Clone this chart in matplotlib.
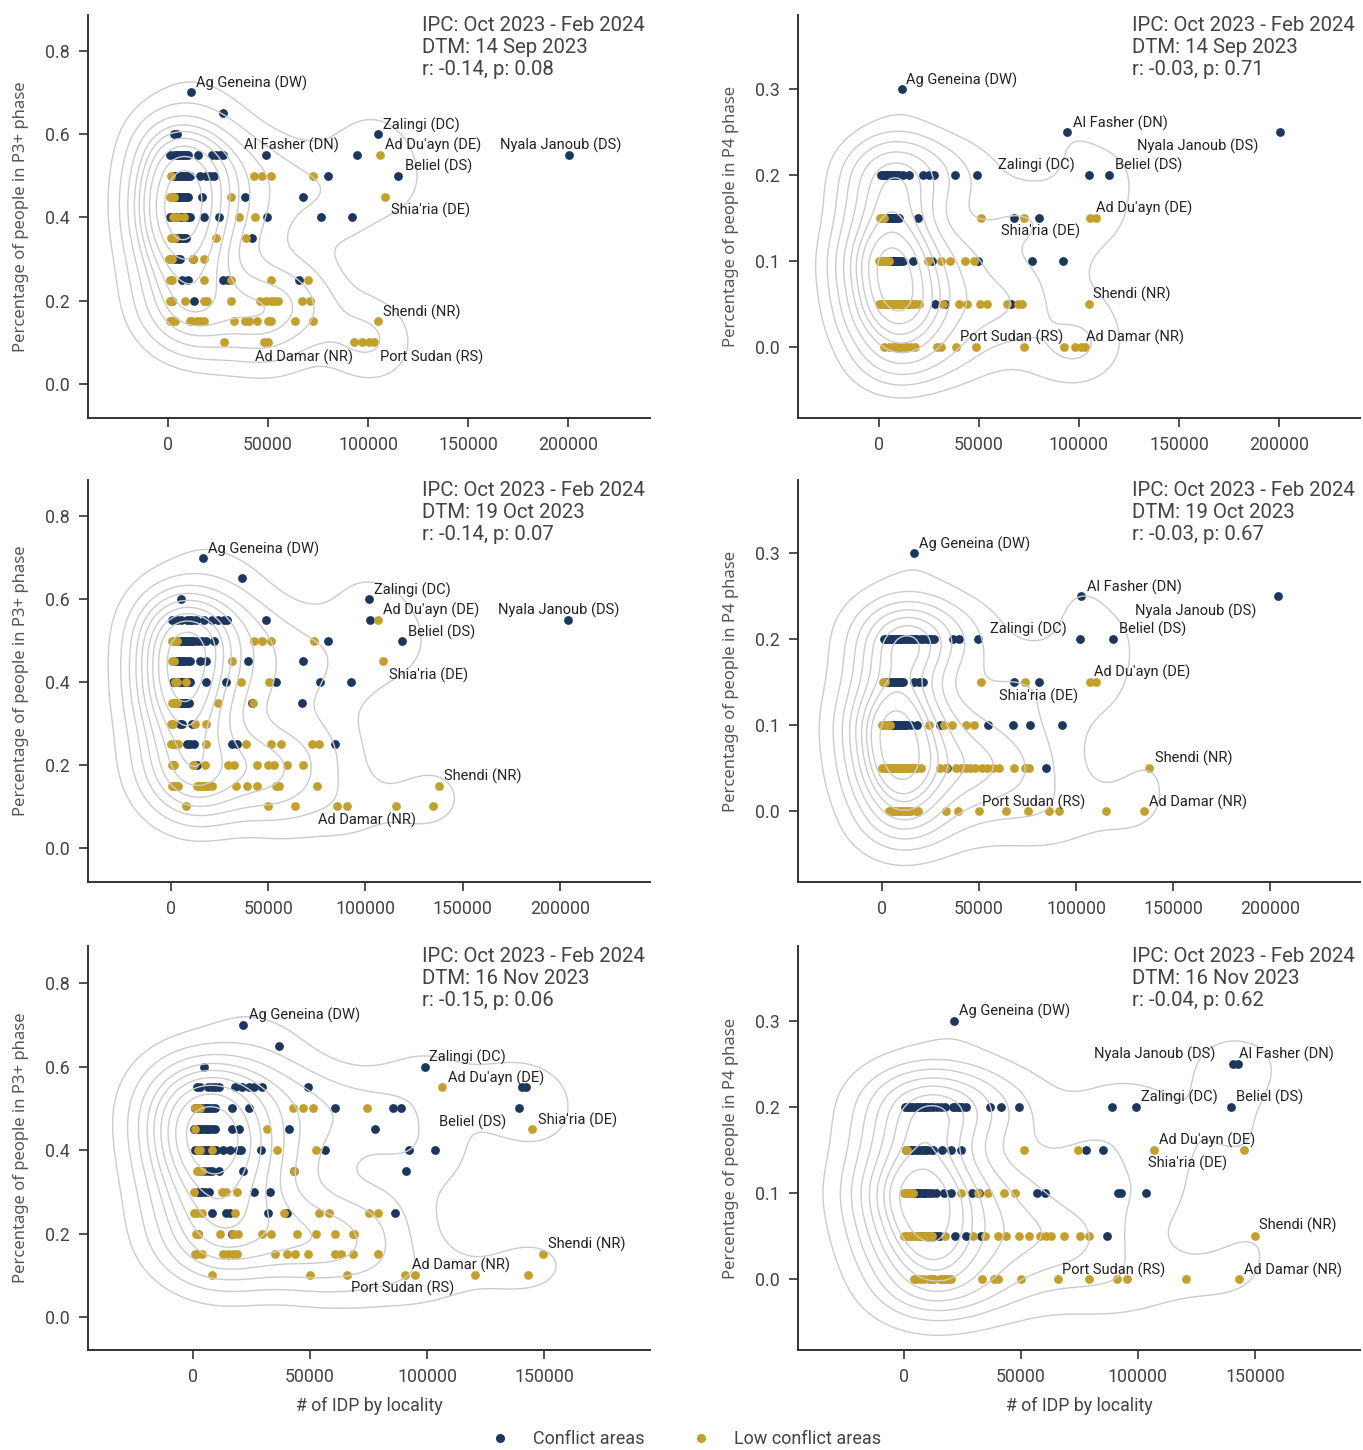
import matplotlib
matplotlib.use("Agg")
import matplotlib.pyplot as plt
import seaborn as sns
from matplotlib.lines import Line2D
from matplotlib.ticker import FuncFormatter, FormatStrFormatter

# ---------------------------------------------------------------------------
# Data: share of people in IPC phase vs. number of IDPs per locality.
# Each dict maps the phase share (y) to the IDP counts (x) of localities
# sitting at that share (localities with equal values overlap).
# ---------------------------------------------------------------------------
DTM_DATES = ["14 Sep 2023", "19 Oct 2023", "16 Nov 2023"]
IPC_PERIOD = "Oct 2023 - Feb 2024"
R_P_P3 = [(-0.14, 0.08), (-0.14, 0.07), (-0.15, 0.06)]
R_P_P4 = [(-0.03, 0.71), (-0.03, 0.67), (-0.04, 0.62)]

# --- DTM 14 Sep 2023 -------------------------------------------------------
SEP_P3_CONFLICT = {
    0.70: [11300],
    0.65: [27600],
    0.60: [3000, 4500, 104800],
    0.55: [1000, 3000, 4000, 5000, 6000, 7000, 8000, 9000, 10000, 15000, 22000, 24000, 26000, 27500,
           49000, 94500, 200500],
    0.50: [3000, 4000, 5000, 6000, 7000, 8000, 9000, 10000, 11000, 16000, 19000, 21000, 23000, 80000, 115000],
    0.45: [2000, 3000, 4000, 5000, 6000, 7000, 8000, 9000, 10000, 17000, 38500, 67500],
    0.40: [1000, 2000, 3000, 4000, 5000, 6000, 7000, 8000, 9000, 10000, 11000, 18000, 25500, 49500, 76500, 92000],
    0.35: [3000, 4000, 5000, 6000, 7000, 8000, 9000, 42000],
    0.30: [3500, 5000, 6000, 12500],
    0.25: [7000, 10000, 27500, 30000, 65500],
    0.20: [2000, 13000],
}
SEP_P3_LOW = {
    0.55: [106000],
    0.50: [1500, 43000, 47000, 51500, 72500],
    0.45: [1000, 2000, 3000, 31500, 108700],
    0.40: [2500, 3000, 5000, 8000, 35500, 43500],
    0.35: [1500, 2500, 3500, 24000, 39000],
    0.30: [500, 1000, 2000, 12500, 18000],
    0.25: [1000, 2000, 18000, 31500, 51500, 70000],
    0.20: [1000, 2000, 8500, 18000, 19500, 31500, 46000, 49000, 51500, 53000, 55000, 67000, 71000],
    0.15: [1000, 2000, 3500, 11000, 12000, 14500, 16000, 18000, 33000, 38500, 40500, 44500, 50000, 51500,
           63500, 72500, 105000],
    0.10: [28000, 48000, 50000, 93000, 97000, 100500, 103000],
}
SEP_P4_CONFLICT = {
    0.30: [11400],
    0.25: [94000, 200600],
    0.20: [1000, 2000, 2500, 3000, 4000, 4500, 5000, 6000, 6500, 7000, 8000, 9000, 10000, 12000, 15000,
           22000, 25000, 27500, 38000, 49000, 105000, 115000],
    0.15: [3000, 4000, 4500, 5000, 5500, 6000, 6500, 7000, 7500, 8000, 9000, 10000, 19500, 67500, 80000],
    0.10: [1000, 2000, 2500, 3000, 3500, 4000, 4500, 5000, 5500, 6000, 6500, 7000, 7500, 8000, 8500,
           9000, 9500, 10000, 11000, 12000, 17000, 26500, 49500, 76500, 92000],
    0.05: [3000, 4000, 5000, 6000, 7000, 8000, 9000, 10000, 11000, 12000, 13500, 28000, 33000, 66000],
}
SEP_P4_LOW = {
    0.15: [500, 1500, 2500, 51000, 72500, 105500, 108700],
    0.10: [0, 500, 1000, 1500, 2000, 2500, 3000, 3500, 4000, 5000, 24500, 31000, 35500, 43000, 47500],
    0.05: [0, 1000, 2000, 3000, 4000, 5000, 6000, 7000, 8000, 9000, 10000, 11000, 12000, 13000, 14000,
           15000, 16000, 17000, 18000, 20000, 32000, 40000, 44000, 50500, 54000, 64000, 69500, 71500,
           105000],
    0.00: [2500, 5000, 7000, 8000, 9000, 10000, 11000, 12500, 14000, 16000, 18000, 29000, 31000, 38500,
           48500, 72500, 92500, 98000, 101000, 103000],
}

# --- DTM 19 Oct 2023 -------------------------------------------------------
OCT_P3_CONFLICT = {
    0.70: [16400],
    0.65: [36300],
    0.60: [4900, 102000],
    0.55: [700, 3000, 5000, 8000, 9500, 11000, 13000, 17000, 21000, 24000, 27000, 29000, 49000, 102500, 204000],
    0.50: [2000, 3000, 4000, 5000, 6000, 7000, 8000, 9000, 10000, 11000, 12000, 14000, 16000, 18000,
           22000, 80700, 119000],
    0.45: [2000, 3000, 4000, 5000, 6000, 7000, 8500, 10000, 15000, 18000, 39700, 68000],
    0.40: [1000, 2000, 3000, 4000, 5000, 6000, 7000, 8000, 9000, 10000, 18000, 28500, 53800, 76700, 92400],
    0.35: [2000, 3000, 4000, 5000, 6000, 7000, 8000, 9000, 41500, 67300],
    0.30: [4500, 5500, 11000],
    0.25: [8000, 10000, 12000, 31500, 34000, 84500],
    0.20: [1000, 13500],
}
OCT_P3_LOW = {
    0.55: [106500],
    0.50: [500, 1500, 2000, 3000, 42500, 47000, 51500, 73300],
    0.45: [700, 1500, 31400, 109000],
    0.40: [2200, 3000, 7800, 35900, 50400],
    0.35: [700, 1500, 2200, 3000, 24000, 42000],
    0.30: [0, 1000, 12300, 18000],
    0.25: [0, 1000, 2000, 3400, 18000, 38600, 51600, 56500, 72400, 76200],
    0.20: [700, 1500, 11200, 12000, 17300, 29100, 32500, 44400, 49800, 52700, 59400, 67900],
    0.15: [700, 1500, 2500, 3400, 13500, 14500, 15700, 16500, 18000, 19000, 20900, 33600, 39200, 44400,
           53800, 55400, 75100, 137900],
    0.10: [7800, 50000, 63500, 85600, 90400, 115500, 134500],
}
OCT_P4_CONFLICT = {
    0.30: [16600],
    0.25: [102700, 203800],
    0.20: [1000, 2000, 3000, 4000, 5000, 6000, 7000, 8000, 9000, 10000, 11000, 12000, 13000, 14000,
           15000, 16000, 17000, 18000, 20000, 21000, 23000, 24000, 25000, 26500, 36400, 39800, 49200,
           102000, 119000],
    0.15: [2000, 3000, 4000, 5000, 6000, 7000, 8000, 9000, 10000, 11000, 16500, 19000, 21000, 67900, 80700],
    0.10: [2000, 2500, 3000, 3500, 4000, 4500, 5000, 5500, 6000, 6500, 7000, 8000, 9000, 10000, 11000,
           12000, 13000, 15000, 18000, 29700, 54400, 67200, 76200, 92600],
    0.05: [3000, 4000, 6000, 7000, 9000, 10000, 11000, 12800, 33500, 84700],
}
OCT_P4_LOW = {
    0.15: [500, 1500, 51000, 73500, 107200, 110000],
    0.10: [0, 500, 1000, 1500, 2000, 2700, 3000, 3500, 4000, 24000, 31900, 36000, 43100, 47200],
    0.05: [0, 1000, 2000, 3000, 4000, 5000, 6000, 7000, 8000, 9000, 10000, 11000, 12000, 13000, 14000,
           15000, 16000, 17000, 18000, 20000, 29700, 33000, 38000, 40500, 43000, 45500, 48000, 51500,
           54000, 57000, 60000, 67900, 73500, 75700, 137700],
    0.00: [3800, 5000, 6000, 7200, 8500, 9500, 11000, 12000, 13000, 14000, 15000, 17500, 18400, 33000,
           39100, 50100, 63600, 75000, 86100, 91000, 115500, 134800],
}

# --- DTM 16 Nov 2023 -------------------------------------------------------
NOV_P3_CONFLICT = {
    0.70: [21500],
    0.65: [36600],
    0.60: [4800, 99200],
    0.55: [1500, 3000, 6300, 8000, 9500, 11000, 17800, 21000, 24000, 26000, 29400, 49000, 140800, 142300],
    0.50: [1000, 2000, 3000, 4000, 5000, 6000, 7000, 8000, 9500, 16500, 23700, 60500, 85300, 89000, 139500],
    0.45: [500, 1000, 2000, 3000, 4000, 5000, 6000, 7000, 8000, 9500, 16800, 19600, 40900, 77900],
    0.40: [1000, 2000, 3000, 4000, 5000, 6000, 7000, 8000, 9000, 10000, 13000, 16000, 19000, 20500,
           29000, 56400, 92500, 103600],
    0.35: [4000, 5000, 7000, 8000, 11300, 21500, 43300, 91000],
    0.30: [2000, 3000, 4000, 5000, 6700, 26100, 32700],
    0.25: [8300, 14000, 16000, 32000, 40100, 86400],
    0.20: [2000, 16800],
}
NOV_P3_LOW = {
    0.55: [106600],
    0.50: [1000, 2000, 3000, 42900, 47200, 51400, 74200],
    0.45: [700, 31500, 145000],
    0.40: [2200, 3000, 8300, 35900, 52500],
    0.35: [1700, 2500, 3900, 43300],
    0.30: [200, 12200, 14000, 18700],
    0.25: [200, 1500, 3900, 17800, 38700, 53800, 57900, 75300, 79000],
    0.20: [1100, 2000, 11700, 17200, 19000, 29600, 33300, 44600, 52500, 60500, 68300, 68600],
    0.15: [700, 1500, 3900, 12800, 15000, 17200, 18700, 35000, 40300, 43700, 49000, 60500, 63100, 68300,
           79200, 149700],
    0.10: [8300, 50100, 65700, 90800, 94900, 120400, 143000],
}
NOV_P4_CONFLICT = {
    0.30: [21400],
    0.25: [140700, 142600],
    0.20: [500, 1500, 2000, 3000, 4000, 5000, 6000, 7000, 8000, 9000, 10000, 11000, 12500, 14000, 16000,
           17500, 21000, 22000, 23000, 24000, 25000, 26400, 36600, 41300, 49100, 88900, 99300, 139800],
    0.15: [1000, 2000, 3000, 4000, 5000, 6000, 7000, 8000, 9000, 10000, 11500, 12500, 16200, 19900,
           24200, 77900, 85000],
    0.10: [1000, 2000, 2500, 3000, 3500, 4000, 4500, 5000, 5500, 6000, 7000, 8000, 8500, 9500, 10600,
           12000, 13800, 17100, 20300, 29200, 32000, 56700, 60400, 91500, 92800, 103500],
    0.05: [6900, 8000, 10000, 11200, 13000, 14000, 15600, 21800, 26400, 32900, 86800],
}
NOV_P4_LOW = {
    0.15: [700, 1500, 51500, 74200, 106900, 145200],
    0.10: [0, 500, 1000, 1500, 2000, 2500, 3000, 4000, 24200, 31600, 36100, 42800, 47400],
    0.05: [0, 1000, 2000, 3000, 4000, 5000, 6000, 7000, 8000, 9000, 10000, 11000, 12000, 17500, 29700,
           34800, 40300, 43500, 49100, 53400, 58000, 60800, 63000, 68200, 75300, 79000, 150000],
    0.00: [4100, 5000, 7000, 8400, 10600, 11000, 12000, 13000, 15500, 16000, 17000, 18000, 19000, 20000,
           33300, 38500, 40300, 50200, 65800, 79000, 91100, 95200, 120600, 143000],
}

# ---------------------------------------------------------------------------
# Styling
# ---------------------------------------------------------------------------
NAVY = "#1b365f"
GOLD = "#c4a02b"
CONTOUR = "#cccccc"
TEXT = "#444444"

sns.set_style("ticks")
plt.rcParams["font.family"] = ["Roboto", "DejaVu Sans"]

# Label placement (data coordinates) for each panel, left-aligned text
LABELS = {
    ("sep", "p3"): [("Ag Geneina (DW)", 13900, 0.722), ("Zalingi (DC)", 107400, 0.621),
                    ("Al Fasher (DN)", 37800, 0.573), ("Ad Du'ayn (DE)", 108300, 0.573),
                    ("Nyala Janoub (DS)", 166100, 0.573), ("Beliel (DS)", 118300, 0.522),
                    ("Shia'ria (DE)", 111300, 0.416), ("Shendi (NR)", 107400, 0.173),
                    ("Ad Damar (NR)", 43500, 0.064), ("Port Sudan (RS)", 105900, 0.064)],
    ("sep", "p4"): [("Ag Geneina (DW)", 13600, 0.310), ("Al Fasher (DN)", 97100, 0.260),
                    ("Nyala Janoub (DS)", 129100, 0.233), ("Zalingi (DC)", 59500, 0.211),
                    ("Beliel (DS)", 118200, 0.211), ("Ad Du'ayn (DE)", 108300, 0.161),
                    ("Shia'ria (DE)", 60800, 0.135), ("Shendi (NR)", 107200, 0.061),
                    ("Port Sudan (RS)", 40500, 0.011), ("Ad Damar (NR)", 103700, 0.011)],
    ("oct", "p3"): [("Ag Geneina (DW)", 19100, 0.721), ("Zalingi (DC)", 104300, 0.622),
                    ("Ad Du'ayn (DE)", 109200, 0.573), ("Nyala Janoub (DS)", 168200, 0.573),
                    ("Beliel (DS)", 121700, 0.521), ("Shia'ria (DE)", 112100, 0.417),
                    ("Shendi (NR)", 140600, 0.173), ("Ad Damar (NR)", 75600, 0.067)],
    ("oct", "p4"): [("Ag Geneina (DW)", 19100, 0.310), ("Al Fasher (DN)", 105400, 0.260),
                    ("Nyala Janoub (DS)", 130100, 0.232), ("Zalingi (DC)", 55500, 0.211),
                    ("Beliel (DS)", 122200, 0.211), ("Ad Du'ayn (DE)", 109400, 0.161),
                    ("Shia'ria (DE)", 60000, 0.133), ("Shendi (NR)", 140400, 0.061),
                    ("Port Sudan (RS)", 51700, 0.0105), ("Ad Damar (NR)", 137300, 0.0105)],
    ("nov", "p3"): [("Ag Geneina (DW)", 23900, 0.722), ("Zalingi (DC)", 101000, 0.623),
                    ("Ad Du'ayn (DE)", 109000, 0.571), ("Beliel (DS)", 105100, 0.467),
                    ("Shia'ria (DE)", 147300, 0.471), ("Shendi (NR)", 151900, 0.173),
                    ("Ad Damar (NR)", 93600, 0.124), ("Port Sudan (RS)", 67300, 0.068)],
    ("nov", "p4"): [("Ag Geneina (DW)", 23600, 0.311), ("Nyala Janoub (DS)", 81200, 0.261),
                    ("Al Fasher (DN)", 143100, 0.261), ("Zalingi (DC)", 101100, 0.211),
                    ("Beliel (DS)", 142000, 0.211), ("Ad Du'ayn (DE)", 109100, 0.161),
                    ("Shia'ria (DE)", 104500, 0.134), ("Shendi (NR)", 151900, 0.062),
                    ("Port Sudan (RS)", 67700, 0.010), ("Ad Damar (NR)", 145400, 0.010)],
}

PANELS = [
    # key, phase, conflict, low, xlim, ylim, row, col
    ("sep", "p3", SEP_P3_CONFLICT, SEP_P3_LOW, (-40000, 241000), (-0.082, 0.886), 0, 0),
    ("sep", "p4", SEP_P4_CONFLICT, SEP_P4_LOW, (-40500, 240500), (-0.0826, 0.386), 0, 1),
    ("oct", "p3", OCT_P3_CONFLICT, OCT_P3_LOW, (-42700, 246300), (-0.082, 0.887), 1, 0),
    ("oct", "p4", OCT_P4_CONFLICT, OCT_P4_LOW, (-43300, 246200), (-0.0826, 0.385), 1, 1),
    ("nov", "p3", NOV_P3_CONFLICT, NOV_P3_LOW, (-44900, 195300), (-0.079, 0.889), 2, 0),
    ("nov", "p4", NOV_P4_CONFLICT, NOV_P4_LOW, (-45300, 194900), (-0.0826, 0.387), 2, 1),
]


def flatten(levels):
    xs, ys = [], []
    for y, xlist in levels.items():
        for x in xlist:
            xs.append(x)
            ys.append(y)
    return xs, ys


W, H = 1363, 1450
fig = plt.figure(figsize=(W / 100, H / 100), dpi=100)

COL_X = [88 / W, 798 / W]
AX_W = 562 / W
ROW_TOP = [15, 480, 946]
ROW_BOT = [418, 882, 1350]

for key, phase, conf, low, xlim, ylim, row, col in PANELS:
    y0 = 1 - ROW_BOT[row] / H
    h = (ROW_BOT[row] - ROW_TOP[row]) / H
    ax = fig.add_axes([COL_X[col], y0, AX_W, h])

    cx, cy = flatten(conf)
    lx, ly = flatten(low)
    ax.scatter(cx, cy, s=40, color=NAVY, linewidths=0, zorder=2)
    ax.scatter(lx, ly, s=40, color=GOLD, linewidths=0, zorder=2)

    sns.kdeplot(x=cx + lx, y=cy + ly, ax=ax, levels=10, color=CONTOUR,
                linewidths=1.0, zorder=3)

    for name, tx, ty in LABELS[(key, phase)]:
        ax.text(tx, ty, name, fontsize=10.5, color="#222222",
                ha="left", va="center", zorder=4)

    date_idx = ["sep", "oct", "nov"].index(key)
    r, p = (R_P_P3 if phase == "p3" else R_P_P4)[date_idx]
    ax.text(0.594, 0.9965,
            f"IPC: {IPC_PERIOD}\nDTM: {DTM_DATES[date_idx]}\nr: {r:.2f}, p: {p:.2f}",
            transform=ax.transAxes, ha="left", va="top",
            fontsize=14.7, color=TEXT, linespacing=1.18)

    ax.set_xlim(*xlim)
    ax.set_ylim(*ylim)
    if row < 2:
        ax.set_xticks([0, 50000, 100000, 150000, 200000])
    else:
        ax.set_xticks([0, 50000, 100000, 150000])
    ax.xaxis.set_major_formatter(FuncFormatter(lambda v, _: f"{int(v)}"))
    if phase == "p3":
        ax.set_yticks([0.0, 0.2, 0.4, 0.6, 0.8])
        ylabel = "Percentage of people in P3+ phase"
    else:
        ax.set_yticks([0.0, 0.1, 0.2, 0.3])
        ylabel = "Percentage of people in P4 phase"
    ax.yaxis.set_major_formatter(FormatStrFormatter("%.1f"))

    ax.set_xlabel("")
    ax.set_ylabel(ylabel, family="Noto Sans", fontsize=12, color="#555555")
    ax.yaxis.set_label_coords(-0.105, 0.5)
    if row == 2:
        ax.set_xlabel("# of IDP by locality", fontsize=12.8, color=TEXT)
        ax.xaxis.set_label_coords(0.5, -0.115)

    for side in ("top", "right"):
        ax.spines[side].set_visible(False)
    for side in ("left", "bottom"):
        ax.spines[side].set_color("#333333")
        ax.spines[side].set_linewidth(1.4)
    ax.tick_params(axis="both", colors="#333333", labelcolor=TEXT,
                   labelsize=12.8, length=6.5, width=1.2, pad=6.5)

handles = [
    Line2D([], [], marker="o", ls="", color=NAVY, markersize=5.5, label="Conflict areas"),
    Line2D([], [], marker="o", ls="", color=GOLD, markersize=5.5, label="Low conflict areas"),
]
fig.legend(handles=handles, loc="center", bbox_to_anchor=(0.5, 0.0075), ncol=2,
           frameon=False, handletextpad=0.85, columnspacing=2.1,
           prop={"family": "Roboto", "size": 13}, labelcolor=TEXT)

fig.savefig("out.png", dpi=100)
